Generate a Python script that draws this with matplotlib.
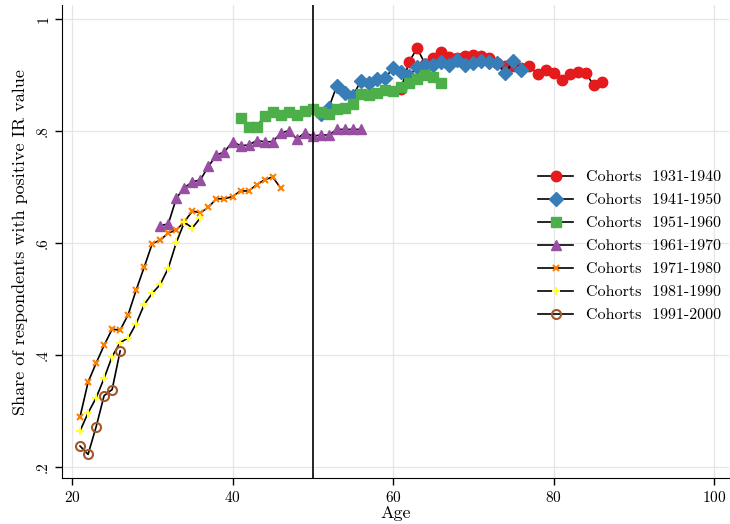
import matplotlib
matplotlib.use("Agg")
import matplotlib.pyplot as plt

plt.rcParams['font.family'] = 'serif'
plt.rcParams['font.serif'] = ['cmr10', 'DejaVu Serif']
plt.rcParams['mathtext.fontset'] = 'cm'
plt.rcParams['axes.formatter.use_mathtext'] = True

# share with positive IR value, by age, per cohort
age_3140 = list(range(61, 87))
val_3140 = [0.876, 0.924, 0.948, 0.920, 0.931, 0.942, 0.932, 0.930, 0.934, 0.936, 0.934, 0.931,
            0.922, 0.916, 0.916, 0.912, 0.916, 0.902, 0.909, 0.904, 0.891, 0.902, 0.906, 0.904,
            0.882, 0.888]

age_4150 = list(range(51, 77))
val_4150 = [0.830, 0.842, 0.881, 0.868, 0.863, 0.890, 0.886, 0.894, 0.895, 0.912, 0.905, 0.898,
            0.915, 0.918, 0.919, 0.923, 0.918, 0.927, 0.919, 0.921, 0.926, 0.924, 0.922, 0.903,
            0.926, 0.910]

age_5160 = list(range(41, 67))
val_5160 = [0.824, 0.807, 0.808, 0.827, 0.834, 0.828, 0.834, 0.829, 0.836, 0.840, 0.835, 0.830,
            0.839, 0.841, 0.848, 0.866, 0.864, 0.868, 0.873, 0.871, 0.879, 0.886, 0.893, 0.901,
            0.896, 0.886]

age_6170 = list(range(31, 57))
val_6170 = [0.631, 0.634, 0.680, 0.699, 0.709, 0.713, 0.737, 0.757, 0.763, 0.781, 0.774, 0.775,
            0.783, 0.781, 0.781, 0.796, 0.801, 0.786, 0.797, 0.791, 0.793, 0.793, 0.803, 0.803,
            0.803, 0.803]

age_7180 = list(range(21, 47))
val_7180 = [0.289, 0.351, 0.385, 0.417, 0.446, 0.444, 0.472, 0.516, 0.557, 0.599, 0.605, 0.618,
            0.623, 0.638, 0.657, 0.654, 0.664, 0.679, 0.679, 0.683, 0.693, 0.693, 0.704, 0.713,
            0.718, 0.698]

age_8190 = list(range(21, 37))
val_8190 = [0.264, 0.296, 0.323, 0.358, 0.397, 0.422, 0.430, 0.456, 0.490, 0.510, 0.526, 0.555,
            0.601, 0.637, 0.627, 0.645]

age_9100 = list(range(21, 27))
val_9100 = [0.237, 0.222, 0.271, 0.327, 0.338, 0.407]

labels = ['Cohorts  1931-1940', 'Cohorts  1941-1950', 'Cohorts  1951-1960',
          'Cohorts  1961-1970', 'Cohorts  1971-1980', 'Cohorts  1981-1990',
          'Cohorts  1991-2000']

x_ticks = [20, 40, 60, 80, 100]
y_ticks = [0.2, 0.4, 0.6, 0.8, 1.0]
y_tick_labels = ['.2', '.4', '.6', '.8', '1']

fig = plt.figure(figsize=(7.3, 5.24), dpi=100)
ax = fig.add_axes([0.085, 0.088, 0.913, 0.902])

series = [
    (age_3140, val_3140, dict(marker='o', ms=7.5, mfc='#e41a1c', mec='#e41a1c')),
    (age_4150, val_4150, dict(marker='D', ms=7, mfc='#377eb8', mec='#377eb8')),
    (age_5160, val_5160, dict(marker='s', ms=6.5, mfc='#4daf4a', mec='#4daf4a')),
    (age_6170, val_6170, dict(marker='^', ms=7.5, mfc='#984ea3', mec='#984ea3')),
    (age_7180, val_7180, dict(marker='x', ms=4.5, mew=1.5, mfc='#ff7f00', mec='#ff7f00')),
    (age_8190, val_8190, dict(marker='+', ms=6, mew=1.5, mfc='#ffff33', mec='#ffff33')),
    (age_9100, val_9100, dict(marker='o', ms=6.5, mew=1.5, mfc='none', mec='#a65628')),
]

for (xs, ys, st), lab in zip(series, labels):
    ax.plot(xs, ys, color='black', lw=1.2, label=lab, **st)

ax.axvline(50, color='black', lw=1.2)

ax.set_xlim(18.76, 101.8)
ax.set_ylim(0.180, 1.025)
ax.set_xticks(x_ticks)
ax.set_yticks(y_ticks)
ax.set_yticklabels(y_tick_labels, rotation=90, va='center')
ax.tick_params(labelsize=11, length=5, width=1)
ax.grid(True, color='#e6e6e6', lw=0.9)
ax.set_axisbelow(True)
for s in ['top', 'right']:
    ax.spines[s].set_visible(False)

ax.set_xlabel('Age', fontsize=13, labelpad=1)
ax.set_ylabel('Share of respondents with positive IR value', fontsize=13, labelpad=6)

ax.legend(loc='center left', bbox_to_anchor=(0.693, 0.49), frameon=False, fontsize=11.5,
          handlelength=2.2, labelspacing=0.55)

fig.savefig('out.png', dpi=100)
